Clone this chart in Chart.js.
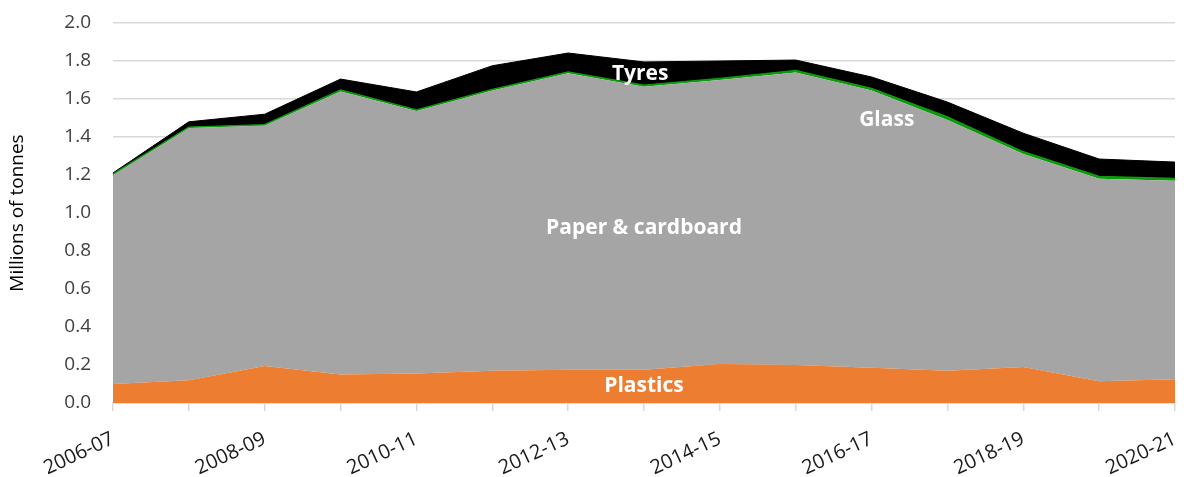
<!DOCTYPE html>
<html>
<head>
<meta charset="utf-8">
<script src="https://cdn.jsdelivr.net/npm/chart.js@4/dist/chart.umd.min.js"></script>
<style>
  html, body { margin: 0; padding: 0; background: #fff; }
  #wrap { width: 1184px; height: 477px; }
</style>
</head>
<body>
<div id="wrap"><canvas id="chart" width="1184" height="477"></canvas></div>
<script>
// years and tonnages (millions of tonnes)
const years = ['2006-07', '2007-08', '2008-09', '2009-10', '2010-11', '2011-12', '2012-13',
    '2013-14', '2014-15', '2015-16', '2016-17', '2017-18', '2018-19', '2019-20', '2020-21'];
const plastics = [0.10, 0.12, 0.195, 0.15, 0.155, 0.17, 0.175, 0.175, 0.205, 0.20, 0.185, 0.17, 0.19, 0.115, 0.125];
const paper = [1.10, 1.327, 1.265, 1.49, 1.382, 1.475, 1.56, 1.49, 1.495, 1.54, 1.46, 1.32, 1.12, 1.065, 1.045];
const glass = [0.004, 0.005, 0.005, 0.007, 0.005, 0.005, 0.007, 0.007, 0.008, 0.01, 0.01, 0.015, 0.012, 0.012, 0.012];
const tyres = [0.007, 0.028, 0.055, 0.058, 0.095, 0.125, 0.10, 0.123, 0.092, 0.055, 0.061, 0.079, 0.098, 0.092, 0.086];
const yTicks = [0, 0.2, 0.4, 0.6, 0.8, 1.0, 1.2, 1.4, 1.6, 1.8, 2.0];

// in-chart labels: [text, category index, value]
const areaLabels = [
    ['Plastics', 7, 0.09],
    ['Paper & cardboard', 7, 0.92],
    ['Glass', 10.2, 1.49],
    ['Tyres', 6.95, 1.73]
];

const FONT = "'Open Sans', 'DejaVu Sans', sans-serif";

const labelPlugin = {
    id: 'areaLabels',
    afterDatasetsDraw(chart) {
        let ctx = chart.ctx;
        let xs = chart.scales.x, ys = chart.scales.y;
        ctx.save();
        ctx.fillStyle = '#ffffff';
        ctx.font = 'bold 21px ' + FONT;
        ctx.textAlign = 'center';
        ctx.textBaseline = 'middle';
        areaLabels.forEach(l => {
            ctx.fillText(l[0], xs.getPixelForValue(l[1]), ys.getPixelForValue(l[2]));
        });
        ctx.restore();
    }
};

// keep the plot box where it is in the picture
function noPad(s) {
    s.paddingTop = 0;
    s.paddingBottom = 0;
    s.paddingLeft = 0;
    s.paddingRight = 0;
}

let ctx = document.getElementById('chart').getContext('2d');
new Chart(ctx, {
    type: 'line',
    data: {
        labels: years,
        datasets: [
            { label: 'Plastics', data: plastics, backgroundColor: '#ED7D31', borderWidth: 0, fill: 'origin' },
            { label: 'Paper & cardboard', data: paper, backgroundColor: '#A5A5A5', borderWidth: 0, fill: '-1' },
            { label: 'Glass', data: glass, backgroundColor: '#0E9A0E', borderColor: '#0E9A0E', borderWidth: 1.5, fill: '-1' },
            { label: 'Tyres', data: tyres, backgroundColor: '#000000', borderColor: '#000000', borderWidth: 1, fill: '-1' }
        ]
    },
    options: {
        responsive: false,
        animation: false,
        layout: { padding: { top: 23, right: 9, left: 6, bottom: 0 } },
        elements: { point: { radius: 0 }, line: { tension: 0 } },
        plugins: { legend: { display: false }, tooltip: { enabled: false } },
        scales: {
            x: {
                offset: false,
                grid: { drawOnChartArea: false, drawTicks: true, tickLength: 8, color: '#d9d9d9', lineWidth: 1.5 },
                border: { color: '#d9d9d9', width: 1.5 },
                ticks: {
                    autoSkip: false,
                    minRotation: 25,
                    maxRotation: 25,
                    color: '#1a1a1a',
                    font: { family: FONT, size: 20 },
                    padding: 16,
                    callback: (v, i) => i % 2 === 0 ? years[i] : ''
                },
                afterFit: s => { s.height = 74; noPad(s); }
            },
            y: {
                stacked: true,
                min: 0,
                max: 2.0,
                afterBuildTicks: s => { s.ticks = yTicks.map(v => ({ value: v })); },
                grid: { color: '#d9d9d9', lineWidth: 1.5, drawTicks: false },
                border: { display: false },
                ticks: {
                    color: '#404040',
                    font: { family: FONT, size: 19 },
                    padding: 22,
                    callback: v => v.toFixed(1)
                },
                title: {
                    display: true,
                    text: 'Millions of tonnes',
                    color: '#000000',
                    font: { family: FONT, size: 19 },
                    padding: { top: 0, bottom: 4 }
                },
                afterFit: s => { s.width = 107; noPad(s); }
            }
        }
    },
    plugins: [labelPlugin]
});
</script>
</body>
</html>
